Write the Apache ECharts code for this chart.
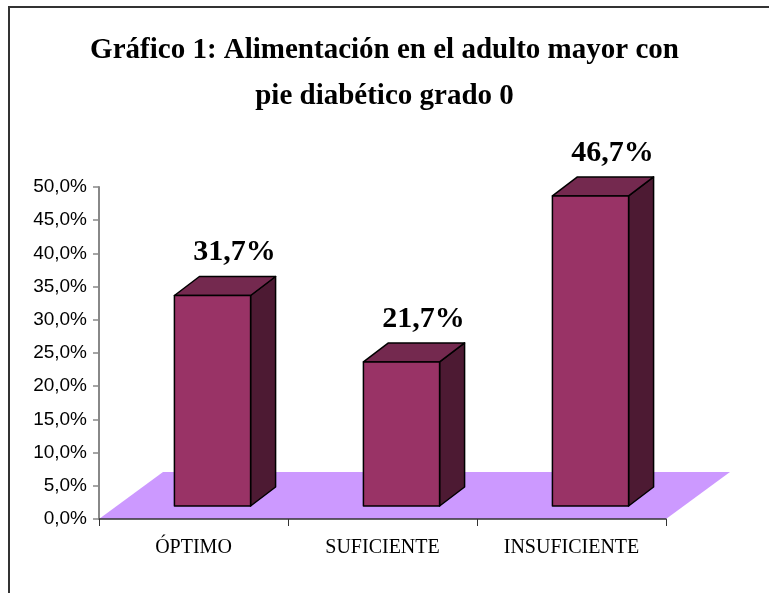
<!DOCTYPE html>
<html>
<head>
<meta charset="utf-8">
<script src="https://cdn.jsdelivr.net/npm/echarts@6/dist/echarts.min.js"></script>
<style>
  html, body { margin: 0; padding: 0; background: #fff; }
  #chart { width: 769px; height: 593px; }
</style>
</head>
<body>
<div id="chart"></div>
<script>
const categories = ['ÓPTIMO', 'SUFICIENTE', 'INSUFICIENTE'];
const values = [31.7, 21.7, 46.7];
const yMin = 0;
const yMax = 50;
const yStep = 5;

// 3d look of the excel chart, in pixels
const FRONT = [19, -13];   // where the bar front sits inside the floor depth
const DEPTH = [25, -19];   // bar depth
const FLOOR = [64, -47];   // floor depth

const fmt = v => v.toFixed(1).replace('.', ',') + '%';

const chart = echarts.init(document.getElementById('chart'));

const option = {
  animation: false,
  title: {
    text: 'Gráfico 1: Alimentación en el adulto mayor con\npie diabético grado 0',
    left: 'center',
    top: 23,
    textStyle: {
      fontFamily: 'Liberation Serif',
      fontWeight: 'bold',
      fontSize: 29,
      lineHeight: 46,
      color: '#000'
    }
  },
  graphic: [{
    type: 'rect',
    shape: { x: 9, y: 7, width: 800, height: 700 },
    style: { fill: 'none', stroke: '#333', lineWidth: 2 },
    silent: true
  }],
  grid: { left: 99, right: 103, top: 187, bottom: 74 },
  xAxis: {
    type: 'category',
    data: categories,
    z: 10,
    axisLine: { lineStyle: { color: '#333', width: 1.5 } },
    axisTick: { show: true, length: 7, lineStyle: { color: '#333' } },
    axisLabel: {
      margin: 19,
      fontFamily: 'Liberation Serif',
      fontSize: 20,
      color: '#000'
    }
  },
  yAxis: {
    type: 'value',
    min: yMin,
    max: yMax,
    interval: yStep,
    z: 10,
    splitLine: { show: false },
    axisLine: { show: true, lineStyle: { color: '#888', width: 2 } },
    axisTick: { show: true, length: 6, lineStyle: { color: '#888', width: 1.5 } },
    axisLabel: {
      margin: 12,
      fontFamily: 'Liberation Sans',
      fontSize: 19,
      color: '#000',
      formatter: v => fmt(v)
    }
  },
  series: [
    {
      // floor
      type: 'custom',
      z: 1,
      silent: true,
      data: [0],
      renderItem: function (params, api) {
        const c = params.coordSys;
        const by = c.y + c.height;
        return {
          type: 'polygon',
          shape: {
            points: [
              [c.x, by], [c.x + c.width, by],
              [c.x + c.width + FLOOR[0], by + FLOOR[1]],
              [c.x + FLOOR[0], by + FLOOR[1]]
            ]
          },
          style: { fill: '#CC99FF', stroke: null }
        };
      }
    },
    {
      // bars
      type: 'custom',
      z: 3,
      data: values.map((v, i) => [i, v]),
      renderItem: function (params, api) {
        const idx = api.value(0);
        const val = api.value(1);
        const base = api.coord([idx, 0]);
        const top = api.coord([idx, val]);
        const bw = api.size([1, 0])[0] * 0.403;
        const x0 = base[0] - bw / 2 + FRONT[0];
        const x1 = x0 + bw;
        const yb = base[1] + FRONT[1];
        const yt = top[1] + FRONT[1];
        const dx = DEPTH[0], dy = DEPTH[1];
        const stroke = { stroke: '#000', lineWidth: 1.5, lineJoin: 'round' };
        return {
          type: 'group',
          children: [
            {
              type: 'polygon',
              shape: { points: [[x1, yt], [x1 + dx, yt + dy], [x1 + dx, yb + dy], [x1, yb]] },
              style: Object.assign({ fill: '#4D1A33' }, stroke)
            },
            {
              type: 'polygon',
              shape: { points: [[x0, yt], [x1, yt], [x1 + dx, yt + dy], [x0 + dx, yt + dy]] },
              style: Object.assign({ fill: '#74294F' }, stroke)
            },
            {
              type: 'rect',
              shape: { x: x0, y: yt, width: bw, height: yb - yt },
              style: Object.assign({ fill: '#993366' }, stroke)
            },
            {
              type: 'text',
              style: {
                text: fmt(val),
                x: (x0 + x1) / 2 + dx - 3,
                y: yt + dy - 9,
                align: 'center',
                verticalAlign: 'bottom',
                fontFamily: 'Liberation Serif',
                fontWeight: 'bold',
                fontSize: 30,
                fill: '#000'
              }
            }
          ]
        };
      }
    }
  ]
};

chart.setOption(option);
</script>
</body>
</html>
